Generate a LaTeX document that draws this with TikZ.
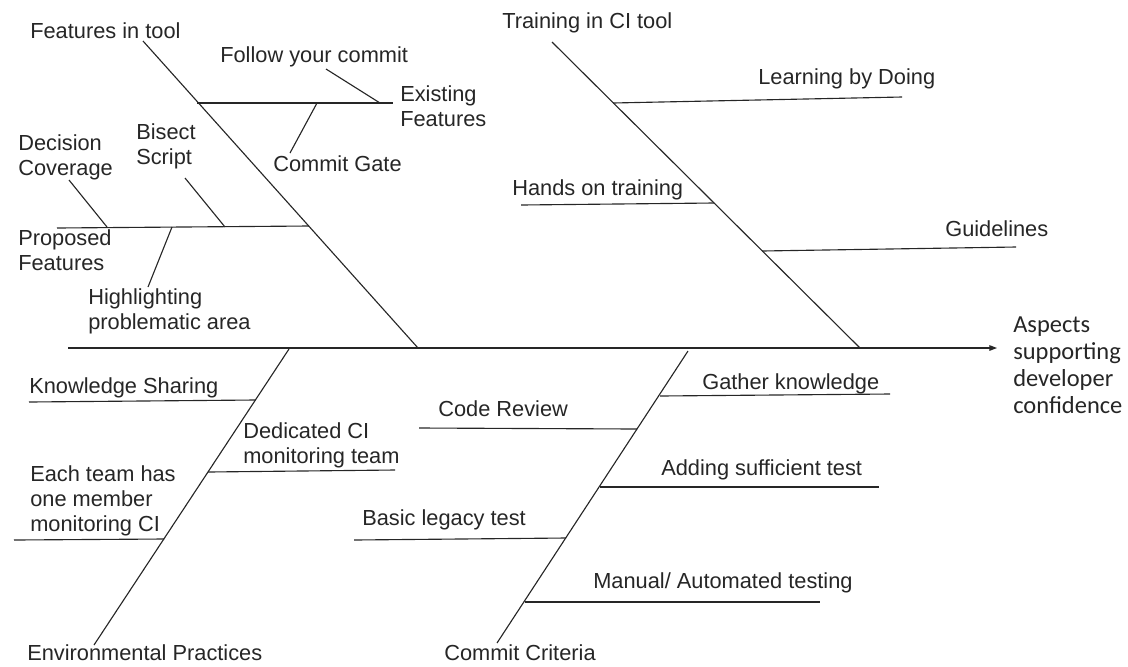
\documentclass[tikz,border=0pt]{standalone}
\usepackage{fontspec}
\setmainfont{Liberation Sans}
\newfontfamily\effectfont{Carlito}
\usepackage{tikz}
\usetikzlibrary{arrows.meta}

\begin{document}
\begin{tikzpicture}[
  x=0.025cm, y=-0.025cm,
  font={\fontsize{15.5pt}{17.7pt}\selectfont},
  every node/.style={align=left, inner sep=0pt, text=black!85},
  lbl/.style   ={anchor=west},
  effect/.style={anchor=west, font={\effectfont\fontsize{17.4pt}{19.2pt}\selectfont}},
  bone/.style  ={draw=black!85, line width=0.8pt},
  twig/.style  ={draw=black!85, line width=0.8pt},
  arr/.style   ={-{Triangle[length=5.5pt,width=4pt]}, draw=black!85, line width=0.8pt}
]
\useasboundingbox (0,0) rectangle (1128,666);

% --- Spine ---
\coordinate (tail) at (68,348);
\coordinate (head) at (997,348);
\draw[arr] (tail) -- (head);
\node[effect] (effect) at (1013,365) {Aspects\\supporting\\developer\\confidence};

% --- Main bones (free end, spine end) ---
\coordinate (ftA) at (143,41);  \coordinate (ftB) at (418,348);
\coordinate (trA) at (552,42);  \coordinate (trB) at (860,348);
\coordinate (epA) at (94,645);  \coordinate (epB) at (289,349);
\coordinate (ccA) at (497,643); \coordinate (ccB) at (688,351);
\draw[bone] (ftA) -- (ftB);
\draw[bone] (trA) -- (trB);
\draw[bone] (epA) -- (epB);
\draw[bone] (ccA) -- (ccB);

\node[lbl] (ftool)  at (30,31)   {Features in tool};
\node[lbl] (train)  at (502,23)  {Training in CI tool};
\node[lbl] (envp)   at (27,653)  {Environmental Practices};
\node[lbl] (crit)   at (444,653) {Commit Criteria};

% --- Features in tool ---
\coordinate (ex1) at (197,103); \coordinate (ex2) at (393,103);
\coordinate (pr1) at (57,228);  \coordinate (pr2) at (309,226);
\draw[twig] (ex1) -- (ex2);
\draw[twig] (pr1) -- (pr2);
\node[lbl] (exist)  at (400,106) {Existing\\Features};
\node[lbl] (prop)   at (18,250)  {Proposed\\Features};

\coordinate (fo1) at (326,69);  \coordinate (fo2) at (380,103);
\coordinate (cg1) at (290,153); \coordinate (cg2) at (317,103);
\coordinate (dc1) at (69,180);  \coordinate (dc2) at (107,227);
\coordinate (bs1) at (185,178); \coordinate (bs2) at (225,227);
\coordinate (hl1) at (148,287); \coordinate (hl2) at (172,227);
\draw[twig] (fo1) -- (fo2);
\draw[twig] (cg1) -- (cg2);
\draw[twig] (dc1) -- (dc2);
\draw[twig] (bs1) -- (bs2);
\draw[twig] (hl1) -- (hl2);
\node[lbl] (follow) at (220,57)  {Follow your commit};
\node[lbl] (gate)   at (273,164) {Commit Gate};
\node[lbl] (decov)  at (18,157)  {Decision\\Coverage};
\node[lbl] (bisect) at (136,146) {Bisect\\Script};
\node[lbl] (hilite) at (88,311)  {Highlighting\\problematic area};

% --- Training in CI tool ---
\coordinate (lb1) at (613,103); \coordinate (lb2) at (902,97);
\coordinate (ho1) at (521,205); \coordinate (ho2) at (714,203);
\coordinate (gl1) at (762,251); \coordinate (gl2) at (1016,247);
\draw[twig] (lb1) -- (lb2);
\draw[twig] (ho1) -- (ho2);
\draw[twig] (gl1) -- (gl2);
\node[lbl] (learn)  at (758,79)  {Learning by Doing};
\node[lbl] (hands)  at (512,190) {Hands on training};
\node[lbl] (guide)  at (945,229) {Guidelines};

% --- Environmental Practices ---
\coordinate (ks1) at (29,402);  \coordinate (ks2) at (255,400);
\coordinate (dt1) at (208,472); \coordinate (dt2) at (395,470);
\coordinate (et1) at (14,540);  \coordinate (et2) at (164,539);
\draw[twig] (ks1) -- (ks2);
\draw[twig] (dt1) -- (dt2);
\draw[twig] (et1) -- (et2);
\node[lbl] (know)   at (29,388)  {Knowledge Sharing};
\node[lbl] (dedic)  at (243,445) {Dedicated CI\\monitoring team};
\node[lbl] (eachtm) at (30,501)  {Each team has\\one member\\monitoring CI};

% --- Commit Criteria ---
\coordinate (gk1) at (660,396); \coordinate (gk2) at (890,394);
\coordinate (cr1) at (419,428); \coordinate (cr2) at (637,429);
\coordinate (as1) at (600,487); \coordinate (as2) at (879,487);
\coordinate (bl1) at (354,540); \coordinate (bl2) at (566,538);
\coordinate (ma1) at (525,602); \coordinate (ma2) at (820,602);
\draw[twig] (gk1) -- (gk2);
\draw[twig] (cr1) -- (cr2);
\draw[twig] (as1) -- (as2);
\draw[twig] (bl1) -- (bl2);
\draw[twig] (ma1) -- (ma2);
\node[lbl] (gather) at (702,384) {Gather knowledge};
\node[lbl] (review) at (438,409) {Code Review};
\node[lbl] (adding) at (661,470) {Adding sufficient test};
\node[lbl] (legacy) at (362,520) {Basic legacy test};
\node[lbl] (manual) at (593,583) {Manual/ Automated testing};

\end{tikzpicture}
\end{document}
